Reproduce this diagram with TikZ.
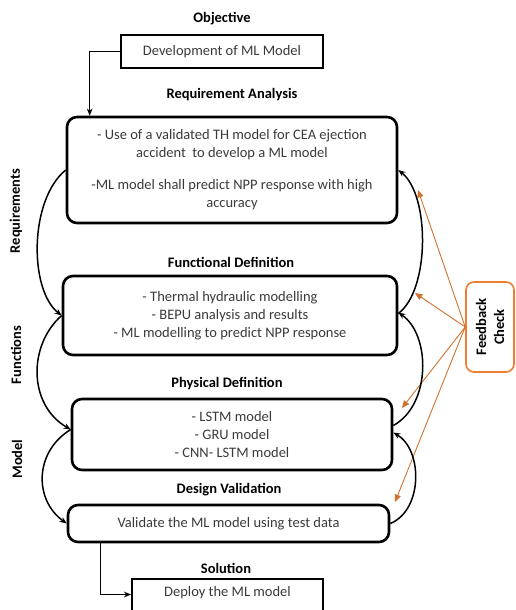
\documentclass[tikz,border=0pt]{standalone}
\usepackage{fontspec}
\setmainfont{Carlito}
\usepackage{xcolor}
\definecolor{fborange}{HTML}{ED7D31}
\definecolor{fbline}{HTML}{D2712E}
\definecolor{bodygray}{HTML}{3A3A3A}
\usetikzlibrary{arrows.meta,calc}
\tikzset{
  txt/.style={font=\fontsize{14.5}{18}\selectfont, text=bodygray, align=center},
  hd/.style={font=\fontsize{14.5}{18}\selectfont\bfseries, text=black, align=center},
  side/.style={hd, rotate=90},
  sbox/.style={txt, draw, line width=1.8pt, inner sep=0pt},
  rbox/.style={txt, draw, line width=2.6pt, rounded corners=10pt, inner sep=0pt},
  fbbox/.style={hd, draw=fborange, line width=1.6pt, rounded corners=8pt,
                rotate=90, inner sep=0pt},
  ar/.style={-{Stealth[length=2.5mm,width=2mm]}, line width=1.5pt},
  far/.style={-{Triangle[length=2.6mm,width=2.2mm]}, draw=fbline, line width=0.9pt},
}

\begin{document}
\begin{tikzpicture}[x=1pt,y=-1pt]
  \useasboundingbox (0,0) rectangle (516,610);

  % stage headings
  \node[hd] (hobj) at (222,19) {Objective};
  \node[hd] (hreq) at (232,95) {Requirement Analysis};
  \node[hd] (hfun) at (231,262) {Functional Definition};
  \node[hd] (hphy) at (227,384) {Physical Definition};
  \node[hd] (hval) at (229,490) {Design Validation};
  \node[hd] (hsol) at (226,568) {Solution};

  % side labels
  \node[side] (sreq) at (16,211) {Requirements};
  \node[side] (sfun) at (16,355) {Functions};
  \node[side] (smod) at (17,459) {Model};

  % stage boxes
  \node[sbox, minimum width=202pt, minimum height=33pt] (obj) at (222,51.5) {Development of ML Model};
  \node[rbox, minimum width=330pt, minimum height=106pt] (req) at (232,170)
    {- Use of a validated TH model for CEA ejection\\accident~ to develop a ML model\\[14pt]-ML model shall predict NPP response with high\\accuracy};
  \node[rbox, minimum width=334pt, minimum height=79pt] (func) at (230,315.5)
    {- Thermal hydraulic modelling\\- BEPU analysis and results\\- ML modelling to predict NPP response};
  \node[rbox, minimum width=320pt, minimum height=71pt] (phys) at (232,434.5)
    {- LSTM model\\- GRU model\\- CNN- LSTM model};
  \node[rbox, minimum width=321pt, minimum height=37pt] (val) at (228.5,523.5)
    {Validate the ML model using test data};
  \node[sbox, minimum width=191pt, text height=18pt, text depth=26pt, anchor=north] (dep) at (227.5,578)
    {Deploy the ML model};

  % feedback
  \node[fbbox, minimum width=90pt, minimum height=48pt] (fb) at (490,327) {Feedback\\Check};
  \coordinate (fbA) at (418,190);
  \coordinate (fbB) at (415,293);
  \coordinate (fbC) at (402,408);
  \coordinate (fbD) at (395,502);
  \foreach \t in {fbA,fbB,fbC,fbD}
    \draw[far] (fb.north) -- (\t);

  % main flow
  \draw[ar] (obj.west) -| ([xshift=24pt]req.north west);
  \draw[ar] ([xshift=34pt]val.south west) |- (dep.mid west);

  % going down on the left
  \draw[ar] (req.west) .. controls (29,200) and (29,290) .. (func.west);
  \draw[ar] (func.west) .. controls (28,345) and (28,405) .. ([yshift=5pt]phys.west);
  \draw[ar] ([yshift=5pt]phys.west) .. controls (34,452) and (34,500) .. (val.west);

  % coming back up on the right
  \draw[ar] ([yshift=2pt]func.east) .. controls (430,290) and (430,195) .. (req.east);
  \draw[ar] ([yshift=9pt]phys.east) .. controls (431,405) and (431,335) .. ([yshift=3pt]func.east);
  \draw[ar] (val.east) .. controls (423,510) and (423,450) .. ([yshift=2pt]phys.east);
\end{tikzpicture}
\end{document}
